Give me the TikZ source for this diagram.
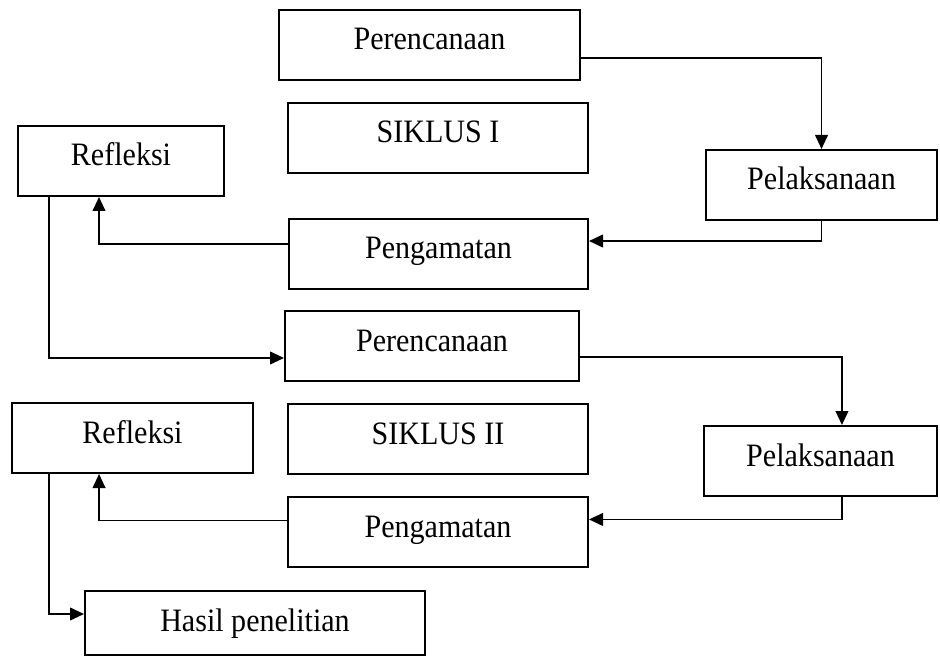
\documentclass[tikz,border=0pt]{standalone}
\usepackage{fontspec}
\setmainfont{Liberation Serif}[FakeStretch=0.92]
\usetikzlibrary{arrows.meta}

\begin{document}
\begin{tikzpicture}[x=0.75pt, y=-0.75pt,
  kotak/.style={draw, line width=1.5pt, anchor=north west, inner sep=0pt,
    text height=30pt, text depth=22.5pt, font=\fontsize{24.5}{28}\selectfont},
  panah/.style={line width=1.4pt, -{Triangle[length=10.5pt, width=9.5pt]}}]
  \useasboundingbox (0,0) rectangle (940,656);

  % siklus I
  \node[kotak, minimum width=225.75pt] (per1) at (278,9)   {Perencanaan};
  \node[kotak, minimum width=225pt]    (sik1) at (287,102) {SIKLUS I};
  \node[kotak, minimum width=154.5pt]  (ref1) at (17,125)  {Refleksi};
  \node[kotak, minimum width=173.25pt] (pel1) at (705,149) {Pelaksanaan};
  \node[kotak, minimum width=224.25pt] (pen1) at (288,218) {Pengamatan};

  % siklus II
  \node[kotak, minimum width=220.5pt]  (per2) at (284,310) {Perencanaan};
  \node[kotak, minimum width=225pt]    (sik2) at (287,403) {SIKLUS II};
  \node[kotak, minimum width=180.75pt] (ref2) at (11,402)  {Refleksi};
  \node[kotak, minimum width=174.75pt] (pel2) at (703,425) {Pelaksanaan};
  \node[kotak, minimum width=225pt]    (pen2) at (287,496) {Pengamatan};

  \node[kotak, minimum width=255pt, text depth=18pt] (hasil) at (84,590) {Hasil penelitian};

  \draw[panah] ([yshift=-9.75pt]per1.east) -| (pel1.north);
  \draw[panah] (pel1.south) |- ([yshift=9.75pt]pen1.east);
  \draw[panah] ([yshift=7.5pt]pen1.west) -| ([xshift=-16.5pt]ref1.south);
  \draw[panah] ([xshift=-54pt]ref1.south) |- ([yshift=-9pt]per2.west);

  \draw[panah] ([yshift=-8.25pt]per2.east) -| ([xshift=16.1pt]pel2.north);
  \draw[panah] ([xshift=16.1pt]pel2.south) |- ([yshift=9.4pt]pen2.east);
  \draw[panah] ([yshift=8.6pt]pen2.west) -| ([xshift=-25.1pt]ref2.south);
  \draw[panah] ([xshift=-62.6pt]ref2.south) |- ([yshift=6.75pt]hasil.west);
\end{tikzpicture}
\end{document}
